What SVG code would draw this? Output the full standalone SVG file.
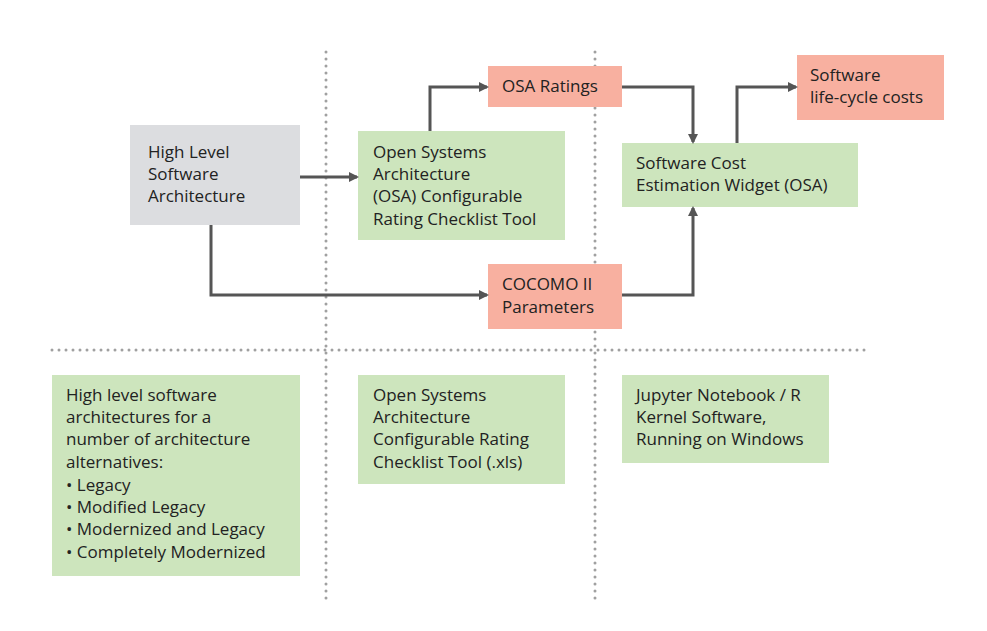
<svg xmlns="http://www.w3.org/2000/svg" width="987" height="631" viewBox="0 0 987 631">
<style>
text{font-family:"Open Sans","Noto Sans",sans-serif;font-size:17px;fill:#222}
.g{fill:#cde5bd}.r{fill:#f8b0a0}.gr{fill:#dcdde0}
.d{stroke:#a0a0a0;stroke-width:3;stroke-dasharray:0 7;stroke-linecap:round;fill:none}
.c{stroke:#555;stroke-width:3;fill:none;marker-end:url(#a)}
</style>
<defs><marker id="a" markerWidth="10" markerHeight="10" refX="8" refY="5" orient="auto" markerUnits="userSpaceOnUse"><path d="M0,0 L10,5 L0,10 z" fill="#555"/></marker></defs>
<rect width="987" height="631" fill="#fff"/>
<g id="grid"><path class="d" d="M326,52V600M595,52V600M52,350H870"/></g>
<g id="n1"><rect class="gr" x="130" y="125" width="170" height="100"/><text x="148" y="158">High Level</text><text x="148" y="180">Software</text><text x="148" y="202">Architecture</text></g>
<g id="n2"><rect class="g" x="358" y="131" width="207" height="109"/><text x="373" y="158">Open Systems</text><text x="373" y="180">Architecture</text><text x="373" y="202">(OSA) Configurable</text><text x="373" y="225">Rating Checklist Tool</text></g>
<g id="n3"><rect class="r" x="488" y="66" width="134" height="41"/><text x="502" y="92">OSA Ratings</text></g>
<g id="n4"><rect class="r" x="797" y="55" width="147" height="65"/><text x="810" y="81">Software</text><text x="810" y="103">life-cycle costs</text></g>
<g id="n5"><rect class="g" x="622" y="143" width="236" height="64"/><text x="636" y="169">Software Cost</text><text x="636" y="191">Estimation Widget (OSA)</text></g>
<g id="n6"><rect class="r" x="488" y="264" width="134" height="65"/><text x="502" y="290">COCOMO II</text><text x="502" y="313">Parameters</text></g>
<g id="n7"><rect class="g" x="52" y="375" width="248" height="201"/><text x="66" y="401">High level software</text><text x="66" y="423">architectures for a</text><text x="66" y="445">number of architecture</text><text x="66" y="468">alternatives:</text><text x="66" y="491">• Legacy</text><text x="66" y="513">• Modified Legacy</text><text x="66" y="535">• Modernized and Legacy</text><text x="66" y="558">• Completely Modernized</text></g>
<g id="n8"><rect class="g" x="358" y="375" width="207" height="109"/><text x="373" y="401">Open Systems</text><text x="373" y="423">Architecture</text><text x="373" y="445">Configurable Rating</text><text x="373" y="468">Checklist Tool (.xls)</text></g>
<g id="n9"><rect class="g" x="622" y="375" width="207" height="88"/><text x="636" y="401">Jupyter Notebook / R</text><text x="636" y="423">Kernel Software,</text><text x="636" y="445">Running on Windows</text></g>
<g id="connectors">
<path class="c" d="M300,177H357"/>
<path class="c" d="M430,131V87H487"/>
<path class="c" d="M211,225V295H487"/>
<path class="c" d="M622,87H693V142"/>
<path class="c" d="M622,295H693V208"/>
<path class="c" d="M737,143V87H796"/>
</g>
</svg>
